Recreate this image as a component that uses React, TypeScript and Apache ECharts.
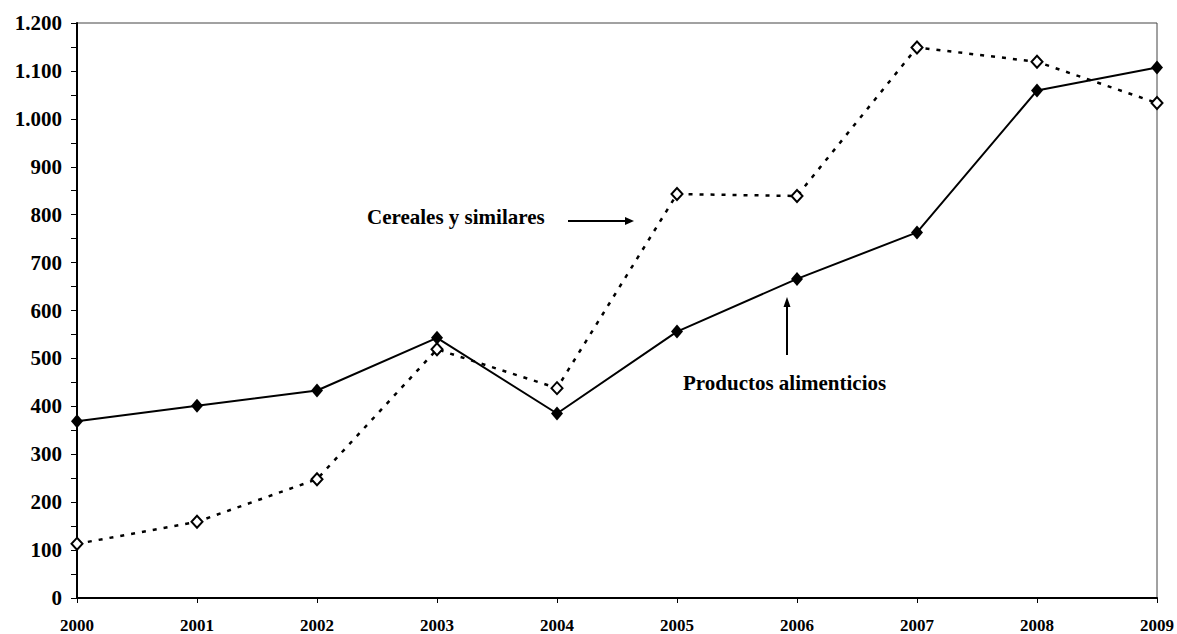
import React, { useEffect, useRef } from "react";
import * as echarts from "echarts";

const years = ["2000", "2001", "2002", "2003", "2004", "2005", "2006", "2007", "2008", "2009"];
const productosAlimenticios = [369, 401, 433, 543, 385, 556, 666, 763, 1059, 1107];
const cerealesSimilares = [113, 159, 248, 519, 438, 843, 839, 1149, 1119, 1033];

const FONT = '"Liberation Serif", "Times New Roman", serif';

const fmtThousands = (v: number) => String(v).replace(/\B(?=(\d{3})+(?!\d))/g, ".");

export default function App() {
  const ref = useRef<HTMLDivElement>(null);

  useEffect(() => {
    if (!ref.current) return;
    const chart = echarts.init(ref.current, null, { renderer: "svg" });
    chart.setOption({
      animation: false,
      backgroundColor: "#ffffff",
      grid: { left: 77, right: 17, top: 23, bottom: 33, show: true, borderColor: "#444", borderWidth: 1 },
      xAxis: {
        type: "category",
        data: years,
        boundaryGap: false,
        axisLine: { lineStyle: { color: "#000", width: 2 } },
        axisTick: { show: true, length: 5, lineStyle: { color: "#000", width: 1 }, alignWithLabel: true },
        axisLabel: { color: "#000", fontFamily: FONT, fontWeight: "bold", fontSize: 17, margin: 19 },
        splitLine: { show: false },
      },
      yAxis: {
        type: "value",
        min: 0,
        max: 1200,
        interval: 100,
        axisLine: { show: true, lineStyle: { color: "#000", width: 2 } },
        axisTick: { show: true, inside: false, length: 6, lineStyle: { color: "#000", width: 1 } },
        minorTick: { show: true, splitNumber: 2, length: 6, lineStyle: { color: "#000", width: 1 } },
        axisLabel: {
          color: "#000",
          fontFamily: FONT,
          fontWeight: "bold",
          fontSize: 21,
          margin: 15,
          formatter: (v: number) => fmtThousands(v),
        },
        splitLine: { show: false },
      },
      series: [
        {
          name: "Productos alimenticios",
          type: "line",
          data: productosAlimenticios,
          symbol: "diamond",
          symbolSize: [12, 14],
          itemStyle: { color: "#000" },
          lineStyle: { color: "#000", width: 2 },
          z: 3,
        },
        {
          name: "Cereales y similares",
          type: "line",
          data: cerealesSimilares,
          symbol: "diamond",
          symbolSize: [11, 12],
          itemStyle: { color: "#fff", borderColor: "#000", borderWidth: 2 },
          lineStyle: { color: "#000", width: 2.5, type: [4, 7] },
          z: 2,
        },
      ],
      graphic: [
        {
          type: "text",
          left: 367,
          top: 206,
          style: { text: "Cereales y similares", font: `bold 21px ${FONT}`, fill: "#000" },
        },
        {
          type: "line",
          shape: { x1: 568, y1: 221, x2: 626, y2: 221 },
          style: { stroke: "#000", lineWidth: 2 },
        },
        {
          type: "polygon",
          shape: { points: [[625, 217], [634, 221], [625, 225]] },
          style: { fill: "#000" },
        },
        {
          type: "text",
          left: 683,
          top: 372,
          style: { text: "Productos alimenticios", font: `bold 21px ${FONT}`, fill: "#000" },
        },
        {
          type: "line",
          shape: { x1: 787, y1: 355, x2: 787, y2: 306 },
          style: { stroke: "#000", lineWidth: 2 },
        },
        {
          type: "polygon",
          shape: { points: [[783.5, 307], [787, 297], [790.5, 307]] },
          style: { fill: "#000" },
        },
      ],
    });
    return () => chart.dispose();
  }, []);

  return (
    <div
      ref={ref}
      style={{ position: "fixed", left: 0, top: 0, width: 1177, height: 634, background: "#fff" }}
    />
  );
}
